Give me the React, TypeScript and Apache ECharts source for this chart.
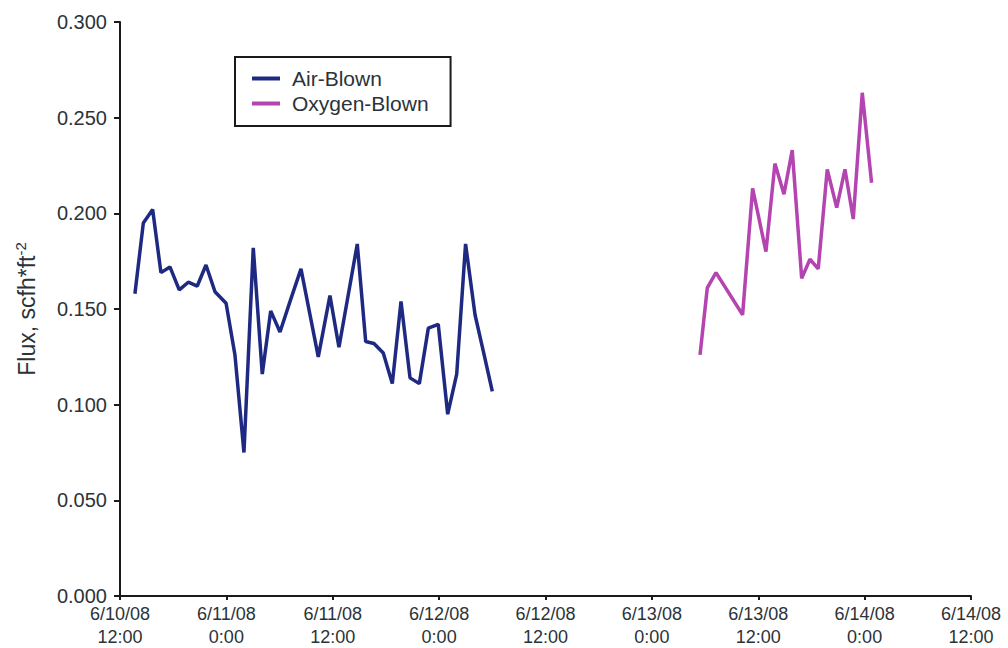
import React, { useEffect, useRef } from "react";
import * as echarts from "echarts";

// Times (UTC strings) and flux values
const airTimes = [
  "2008-06-10 13:41", "2008-06-10 14:38", "2008-06-10 15:41", "2008-06-10 16:37",
  "2008-06-10 17:38", "2008-06-10 18:41", "2008-06-10 19:42", "2008-06-10 20:43",
  "2008-06-10 21:42", "2008-06-10 22:43", "2008-06-10 23:58", "2008-06-11 00:58",
  "2008-06-11 01:59", "2008-06-11 03:02", "2008-06-11 04:03", "2008-06-11 05:00",
  "2008-06-11 06:03", "2008-06-11 07:11", "2008-06-11 08:25", "2008-06-11 10:22",
  "2008-06-11 11:41", "2008-06-11 12:42", "2008-06-11 14:46", "2008-06-11 15:43",
  "2008-06-11 16:39", "2008-06-11 17:42", "2008-06-11 18:43", "2008-06-11 19:42",
  "2008-06-11 20:43", "2008-06-11 21:46", "2008-06-11 22:47", "2008-06-11 23:54",
  "2008-06-12 00:58", "2008-06-12 01:59", "2008-06-12 02:59", "2008-06-12 04:03",
  "2008-06-12 04:59", "2008-06-12 06:00",
];
const airFlux = [
  0.158, 0.195, 0.202, 0.169, 0.172, 0.160, 0.164, 0.162, 0.173, 0.159,
  0.153, 0.126, 0.075, 0.182, 0.116, 0.149, 0.138, 0.154, 0.171, 0.125,
  0.157, 0.130, 0.184, 0.133, 0.132, 0.127, 0.111, 0.154, 0.114, 0.111,
  0.140, 0.142, 0.095, 0.116, 0.184, 0.147, 0.128, 0.107,
];

const oxyTimes = [
  "2008-06-13 05:26", "2008-06-13 06:15", "2008-06-13 07:14", "2008-06-13 10:14",
  "2008-06-13 11:22", "2008-06-13 12:52", "2008-06-13 13:53", "2008-06-13 14:54",
  "2008-06-13 15:50", "2008-06-13 16:54", "2008-06-13 17:50", "2008-06-13 18:46",
  "2008-06-13 19:47", "2008-06-13 20:51", "2008-06-13 21:47", "2008-06-13 22:43",
  "2008-06-13 23:44", "2008-06-14 00:47",
];
const oxyFlux = [
  0.126, 0.161, 0.169, 0.147, 0.213, 0.180, 0.226, 0.210, 0.233, 0.166,
  0.176, 0.171, 0.223, 0.203, 0.223, 0.197, 0.263, 0.216,
];

const xStart = "2008-06-10 12:00";
const xEnd = "2008-06-14 12:00";
const yTicks = [0, 0.05, 0.1, 0.15, 0.2, 0.25, 0.3];

const toMs = (s: string) => Date.parse(s.replace(" ", "T") + ":00Z");
const HALF_DAY = 12 * 3600 * 1000;

const FONT = "'Liberation Sans', Arial, sans-serif";
const TEXT = "#2b3338";

export default function App() {
  const ref = useRef<HTMLDivElement>(null);
  useEffect(() => {
    if (!ref.current) return;
    const chart = echarts.init(ref.current, null, { renderer: "svg" });
    chart.setOption({
      animation: false,
      backgroundColor: "#ffffff",
      grid: { left: 120, right: 37, top: 22, bottom: 51, containLabel: false },
      legend: {
        left: 235,
        top: 57,
        orient: "vertical",
        data: ["Air-Blown", "Oxygen-Blown"],
        icon: "rect",
        itemWidth: 28,
        itemHeight: 4,
        itemGap: 4,
        padding: [11, 22, 12, 17],
        borderColor: "#1a1a1a",
        borderWidth: 2,
        borderRadius: 0,
        textStyle: { fontFamily: FONT, fontSize: 21, color: TEXT, padding: [0, 0, 0, 7] },
      },
      xAxis: {
        type: "value",
        min: toMs(xStart),
        max: toMs(xEnd),
        interval: HALF_DAY,
        axisLine: { show: true, lineStyle: { color: "#1a1a1a", width: 2 } },
        axisTick: { show: true, length: 4, inside: false, lineStyle: { color: "#1a1a1a", width: 2 } },
        splitLine: { show: false },
        axisLabel: {
          fontFamily: FONT,
          fontSize: 18,
          color: TEXT,
          margin: 6,
          lineHeight: 23,
          formatter: (v: number) => {
            const d = new Date(v);
            const yy = String(d.getUTCFullYear() % 100).padStart(2, "0");
            const md = `${d.getUTCMonth() + 1}/${d.getUTCDate()}/${yy}`;
            const hm = `${d.getUTCHours()}:${String(d.getUTCMinutes()).padStart(2, "0")}`;
            return `${md}\n${hm}`;
          },
        },
      },
      yAxis: {
        type: "value",
        min: yTicks[0],
        max: yTicks[yTicks.length - 1],
        interval: 0.05,
        name: "Flux, scfh*ft{sup|-2}",
        nameLocation: "middle",
        nameGap: 80,
        nameRotate: 90,
        nameTextStyle: {
          fontFamily: FONT,
          fontSize: 23,
          color: TEXT,
          rich: {
            sup: { fontFamily: FONT, fontSize: 15, color: TEXT, verticalAlign: "top", padding: [0, 0, 12, 0] },
          },
        },
        axisLine: { show: true, lineStyle: { color: "#1a1a1a", width: 2 } },
        axisTick: { show: true, length: 6, lineStyle: { color: "#1a1a1a", width: 2 } },
        splitLine: { show: false },
        axisLabel: {
          fontFamily: FONT,
          fontSize: 20,
          color: TEXT,
          margin: 13,
          formatter: (v: number) => v.toFixed(3),
        },
      },
      series: [
        {
          name: "Air-Blown",
          type: "line",
          data: airTimes.map((t, i) => [toMs(t), airFlux[i]]),
          showSymbol: false,
          symbol: "none",
          lineStyle: { color: "#1e2a82", width: 3.5 },
          itemStyle: { color: "#1e2a82" },
        },
        {
          name: "Oxygen-Blown",
          type: "line",
          data: oxyTimes.map((t, i) => [toMs(t), oxyFlux[i]]),
          showSymbol: false,
          symbol: "none",
          lineStyle: { color: "#b444b0", width: 3.5 },
          itemStyle: { color: "#b444b0" },
        },
      ],
    });
    return () => chart.dispose();
  }, []);
  return <div ref={ref} style={{ width: 1008, height: 648, position: "absolute", left: 0, top: 0 }} />;
}
